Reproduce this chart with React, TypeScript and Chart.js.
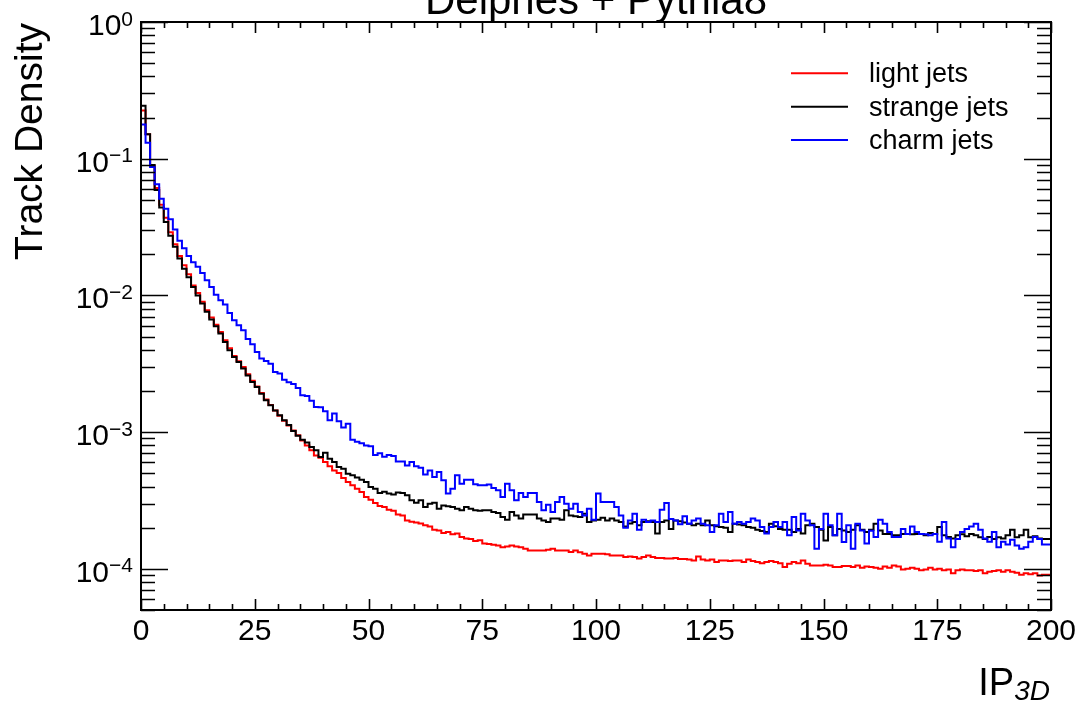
import React, { useEffect, useRef } from "react";
import { Chart, registerables } from "chart.js";

Chart.register(...registerables);

// ---------------- data ----------------
const X_MIN = 0;
const X_MAX = 200;
const BIN_WIDTH = 1;
const Y_MIN = 5e-5;
const Y_MAX = 1;

const X_TICK_LABELS = [0, 25, 50, 75, 100, 125, 150, 175, 200];
const Y_DECADES = [-4, -3, -2, -1, 0];

const TITLE = "Delphes + Pythia8";
const Y_TITLE = "Track Density";
const X_TITLE_MAIN = "IP";
const X_TITLE_SUB = "3D";

const SERIES_LABELS = ["light jets", "strange jets", "charm jets"];
const SERIES_COLORS = ["#ff0000", "#000000", "#0000ff"];

const lightJets = [
  0.151, 0.225, 0.151, 0.089, 0.061, 0.046, 0.037, 0.029, 0.0237, 0.0194,
  0.0166, 0.0143, 0.0118, 0.0104, 0.009, 0.0078, 0.0069, 0.0061, 0.0054, 0.0047,
  0.0041, 0.0036, 0.0033, 0.003, 0.00265, 0.00238, 0.00216, 0.00193, 0.00173, 0.00158,
  0.00144, 0.00132, 0.00121, 0.00112, 0.00103, 0.00095, 0.00087, 0.0008, 0.000736, 0.000676,
  0.00065, 0.000604, 0.000562, 0.000525, 0.000502, 0.000461, 0.000431, 0.000408, 0.000386, 0.000365,
  0.000335, 0.00032, 0.000303, 0.000288, 0.000283, 0.000271, 0.000266, 0.00025, 0.000246, 0.000226,
  0.000221, 0.000218, 0.000215, 0.000208, 0.000204, 0.000193, 0.000191, 0.000183, 0.000186, 0.000179,
  0.000181, 0.000171, 0.000167, 0.000165, 0.00016, 0.000162, 0.000153, 0.000152, 0.00015, 0.000148,
  0.000144, 0.000146, 0.000148, 0.000146, 0.000144, 0.00014, 0.000136, 0.000136, 0.000136, 0.000136,
  0.000138, 0.00014, 0.000136, 0.000136, 0.000136, 0.000133, 0.000136, 0.000132, 0.000129, 0.000125,
  0.000129, 0.000129, 0.000129, 0.000128, 0.000125, 0.000125, 0.000125, 0.000122, 0.000123, 0.000122,
  0.000119, 0.000122, 0.000125, 0.000122, 0.00012, 0.00012, 0.000119, 0.000119, 0.00012, 0.000118,
  0.000118, 0.000117, 0.000115, 0.000123, 0.000117, 0.000115, 0.000117, 0.000112, 0.000115, 0.000115,
  0.000114, 0.000115, 0.000115, 0.000112, 0.000117, 0.000114, 0.000112, 0.00011, 0.000112, 0.000114,
  0.000112, 0.00011, 0.000103, 0.000109, 0.000112, 0.00011, 0.000115, 0.000109, 0.000106, 0.000106,
  0.000106, 0.000107, 0.000106, 0.000103, 0.000103, 0.000105, 0.000105, 0.000103, 0.000106, 0.000102,
  0.000104, 0.000103, 0.000102, 0.0001, 0.000104, 0.000102, 0.000106, 0.000104, 0.0000989, 0.0001,
  0.000102, 0.0001, 0.0000975, 0.0000989, 0.000102, 0.0000989, 0.0001, 0.0000975, 0.0000989, 0.0000928,
  0.0000975, 0.0000989, 0.0000975, 0.0000975, 0.0000963, 0.0000975, 0.0000928, 0.0000954, 0.0000963, 0.0000975,
  0.0000954, 0.0000975, 0.0000954, 0.0000937, 0.0000906, 0.0000928, 0.0000913, 0.0000928, 0.0000893, 0.0000906,
];

const strangeJets = [
  0.151, 0.244, 0.151, 0.09, 0.059, 0.044, 0.0345, 0.0273, 0.0227, 0.0186,
  0.0157, 0.0136, 0.0115, 0.01, 0.00873, 0.0076, 0.00666, 0.00595, 0.00526, 0.00457,
  0.00397, 0.00355, 0.00326, 0.00292, 0.0026, 0.00233, 0.00214, 0.00191, 0.00171, 0.00157,
  0.00144, 0.00133, 0.00122, 0.00113, 0.00102, 0.00094, 0.00088, 0.00084, 0.00078, 0.000736,
  0.000658, 0.000708, 0.00064, 0.000604, 0.000555, 0.00054, 0.000497, 0.000483, 0.000465, 0.000449,
  0.000431, 0.000397, 0.000386, 0.000358, 0.000366, 0.000355, 0.00035, 0.000362, 0.000358, 0.000345,
  0.000317, 0.000305, 0.000317, 0.000283, 0.000299, 0.000305, 0.000275, 0.000291, 0.000287, 0.000283,
  0.000275, 0.000268, 0.000283, 0.000275, 0.000268, 0.000266, 0.000268, 0.000268, 0.00026, 0.000256,
  0.000239, 0.000229, 0.00026, 0.000246, 0.000233, 0.00025, 0.00025, 0.00025, 0.000233, 0.000226,
  0.00022, 0.000233, 0.000233, 0.000229, 0.000268, 0.000246, 0.000242, 0.000239, 0.000253, 0.00022,
  0.000226, 0.000229, 0.000236, 0.000226, 0.000233, 0.000226, 0.00022, 0.000204, 0.000215, 0.00022,
  0.000208, 0.00022, 0.000223, 0.00022, 0.000181, 0.00022, 0.000226, 0.000196, 0.000226, 0.000223,
  0.000218, 0.000214, 0.000208, 0.000214, 0.000208, 0.000226, 0.000208, 0.000205, 0.000202, 0.0002,
  0.000186, 0.000214, 0.000211, 0.000208, 0.000202, 0.0002, 0.000193, 0.000189, 0.000186, 0.000214,
  0.000205, 0.000196, 0.000193, 0.000193, 0.000186, 0.000196, 0.000181, 0.000208, 0.000214, 0.000202,
  0.000193, 0.000161, 0.000202, 0.000176, 0.000196, 0.000191, 0.000186, 0.000193, 0.000208, 0.000193,
  0.000186, 0.000193, 0.000214, 0.000191, 0.00018, 0.00018, 0.000176, 0.000176, 0.00018, 0.00018,
  0.000179, 0.00018, 0.00018, 0.000176, 0.000183, 0.00018, 0.000202, 0.000176, 0.000171, 0.000167,
  0.000176, 0.000179, 0.000173, 0.00018, 0.000176, 0.00017, 0.000165, 0.000171, 0.000165, 0.00017,
  0.000167, 0.000176, 0.000193, 0.00017, 0.000176, 0.000193, 0.00017, 0.000173, 0.000167, 0.000165,
];

const charmJets = [
  0.103, 0.178, 0.131, 0.087, 0.065, 0.051, 0.043, 0.036, 0.0304, 0.0251,
  0.0221, 0.0194, 0.0175, 0.0162, 0.0146, 0.0129, 0.0115, 0.0101, 0.0092, 0.00857,
  0.00745, 0.00658, 0.00605, 0.00556, 0.0048, 0.0044, 0.00386, 0.00345, 0.00332, 0.00317,
  0.00275, 0.00268, 0.00242, 0.00232, 0.00225, 0.0021, 0.00186, 0.00184, 0.0017, 0.00153,
  0.00152, 0.00142, 0.00122, 0.00137, 0.0012, 0.00108, 0.00115, 0.00088, 0.00085, 0.00083,
  0.0008, 0.00079, 0.00068, 0.0007, 0.00066, 0.00068, 0.00067, 0.000611, 0.000611, 0.000571,
  0.000604, 0.000562, 0.00055, 0.000489, 0.000525, 0.000469, 0.00051, 0.000444, 0.000355, 0.000386,
  0.000483, 0.00042, 0.000449, 0.000449, 0.000415, 0.000408, 0.000408, 0.000414, 0.00039, 0.000375,
  0.000335, 0.00042, 0.000375, 0.000317, 0.000358, 0.000335, 0.000358, 0.000358, 0.000308, 0.000268,
  0.000294, 0.00026, 0.000308, 0.000335, 0.000299, 0.000275, 0.000299, 0.00026, 0.000246, 0.000275,
  0.000229, 0.000355, 0.000308, 0.000308, 0.000308, 0.000283, 0.000246, 0.0002, 0.000226, 0.000253,
  0.000193, 0.000229, 0.00022, 0.000226, 0.00022, 0.000271, 0.000303, 0.000232, 0.000226, 0.000212,
  0.000242, 0.000214, 0.000226, 0.000233, 0.000214, 0.000208, 0.000186, 0.000208, 0.000253, 0.00022,
  0.00026, 0.000214, 0.00022, 0.000214, 0.00022, 0.000233, 0.000226, 0.000202, 0.000181, 0.000202,
  0.00022, 0.000202, 0.00022, 0.000176, 0.000239, 0.000191, 0.000253, 0.000226, 0.000208, 0.00014,
  0.000196, 0.000253, 0.000208, 0.000176, 0.000253, 0.000157, 0.000208, 0.00014, 0.000214, 0.000191,
  0.000153, 0.00019, 0.000171, 0.000229, 0.000214, 0.000186, 0.000171, 0.000171, 0.000196, 0.00018,
  0.000204, 0.000186, 0.00018, 0.000179, 0.000176, 0.00018, 0.000158, 0.00022, 0.000167, 0.000144,
  0.000165, 0.000186, 0.000196, 0.000204, 0.000214, 0.000193, 0.000167, 0.000158, 0.000186, 0.000144,
  0.000158, 0.000151, 0.000163, 0.000148, 0.00014, 0.000144, 0.000158, 0.000171, 0.000165, 0.000151,
];

const SERIES_VALUES = [lightJets, strangeJets, charmJets];

// ---------------- helpers ----------------
const FONT = "'Liberation Sans', Arial, Helvetica, sans-serif";

function histPoints(values: number[]) {
  // bin left edges plus the closing right edge (stepped 'after')
  const pts = values.map((v, i) => ({ x: X_MIN + i * BIN_WIDTH, y: v }));
  pts.push({ x: X_MIN + values.length * BIN_WIDTH, y: values[values.length - 1] });
  return pts;
}

const rootStyle = {
  id: "rootStyle",
  afterDatasetsDraw(chart: any) {
    const { ctx, chartArea: a, scales } = chart;
    const xs = scales.x;
    const ys = scales.y;
    ctx.save();
    ctx.strokeStyle = "#000";
    ctx.fillStyle = "#000";

    // frame
    ctx.lineWidth = 2;
    ctx.strokeRect(a.left, a.top, a.right - a.left, a.bottom - a.top);

    // y ticks (decades and 2..9 minor), both sides, pointing inwards
    ctx.lineWidth = 1.6;
    ctx.beginPath();
    for (let e = -5; e <= 0; e++) {
      for (let m = 1; m <= 9; m++) {
        const v = m * Math.pow(10, e);
        if (v < Y_MIN * 0.999 || v > Y_MAX * 1.001) continue;
        const py = Math.round(ys.getPixelForValue(v)) + 0.5;
        const len = m === 1 ? 27 : 14;
        ctx.moveTo(a.left, py);
        ctx.lineTo(a.left + len, py);
        ctx.moveTo(a.right, py);
        ctx.lineTo(a.right - len, py);
      }
    }
    // x ticks: every 5 minor, every 25 major, bottom and top
    for (let v = X_MIN; v <= X_MAX; v += 5) {
      const px = Math.round(xs.getPixelForValue(v)) + 0.5;
      const len = v % 25 === 0 ? 11 : 6;
      ctx.moveTo(px, a.bottom);
      ctx.lineTo(px, a.bottom - len);
      ctx.moveTo(px, a.top);
      ctx.lineTo(px, a.top + len);
    }
    ctx.stroke();

    // x tick labels
    ctx.font = `30px ${FONT}`;
    ctx.textAlign = "center";
    ctx.textBaseline = "alphabetic";
    xs.ticks.forEach((t: any) => {
      const px = xs.getPixelForValue(t.value);
      ctx.fillText(String(t.value), px, a.bottom + 30);
    });

    // y tick labels 10^n
    ys.ticks.forEach((t: any) => {
      const e = Math.round(Math.log10(t.value));
      const py = ys.getPixelForValue(t.value);
      const sup = e === 0 ? "0" : "\u2212" + Math.abs(e);
      const rightX = a.left - 8;
      ctx.font = `21px ${FONT}`;
      ctx.textAlign = "right";
      ctx.fillText(sup, rightX, py + 3.5);
      const supW = ctx.measureText(sup).width;
      ctx.font = `30px ${FONT}`;
      ctx.fillText("10", rightX - supW, py + 12.8);
    });

    // title (partly above the canvas, as in the reference)
    ctx.font = `42px ${FONT}`;
    ctx.textAlign = "center";
    ctx.fillText(TITLE, (a.left + a.right) / 2, 14);

    // y axis title
    ctx.save();
    ctx.translate(42, a.top + 1);
    ctx.rotate(-Math.PI / 2);
    ctx.font = `39px ${FONT}`;
    ctx.textAlign = "right";
    ctx.fillText(Y_TITLE, 0, 0);
    ctx.restore();

    // x axis title IP_{3D}
    ctx.font = `italic 28px ${FONT}`;
    const subW = ctx.measureText(X_TITLE_SUB).width;
    ctx.font = `38px ${FONT}`;
    const mainW = ctx.measureText(X_TITLE_MAIN).width;
    const endX = a.right - 1;
    ctx.textAlign = "left";
    ctx.fillText(X_TITLE_MAIN, endX - subW - mainW, 695);
    ctx.font = `italic 28px ${FONT}`;
    ctx.fillText(X_TITLE_SUB, endX - subW, 700);

    // legend
    const rowsY = [73.3, 106.7, 140];
    chart.data.datasets.forEach((ds: any, i: number) => {
      const y = rowsY[i];
      ctx.strokeStyle = ds.borderColor;
      ctx.lineWidth = 2;
      ctx.beginPath();
      ctx.moveTo(791, y);
      ctx.lineTo(848, y);
      ctx.stroke();
      ctx.fillStyle = "#000";
      ctx.font = `27px ${FONT}`;
      ctx.textAlign = "left";
      ctx.fillText(ds.label, 869, y + 9);
    });

    ctx.restore();
  },
};

export default function App() {
  const canvasRef = useRef<HTMLCanvasElement | null>(null);

  useEffect(() => {
    const canvas = canvasRef.current;
    if (!canvas) return;
    const drawOrder = [3, 2, 1]; // charm on top, light at the bottom
    const chart = new Chart(canvas, {
      type: "line",
      data: {
        datasets: SERIES_VALUES.map((vals, i) => ({
          label: SERIES_LABELS[i],
          data: histPoints(vals),
          borderColor: SERIES_COLORS[i],
          backgroundColor: SERIES_COLORS[i],
          borderWidth: 2,
          stepped: "after" as const,
          pointRadius: 0,
          fill: false,
          order: drawOrder[i],
        })),
      },
      options: {
        responsive: false,
        animation: false,
        events: [],
        layout: { padding: { top: 22, right: 35, left: 0, bottom: 0 } },
        scales: {
          x: {
            type: "linear",
            min: X_MIN,
            max: X_MAX,
            ticks: { display: false, stepSize: 25 },
            grid: { display: false },
            border: { display: false },
            afterBuildTicks: (s: any) => {
              s.ticks = X_TICK_LABELS.map((v) => ({ value: v }));
            },
            afterFit: (s: any) => {
              s.height = 102;
            },
          },
          y: {
            type: "logarithmic",
            min: Y_MIN,
            max: Y_MAX,
            ticks: { display: false },
            grid: { display: false },
            border: { display: false },
            afterBuildTicks: (s: any) => {
              s.ticks = Y_DECADES.map((e) => ({ value: Math.pow(10, e) }));
            },
            afterFit: (s: any) => {
              s.width = 141;
            },
          },
        },
        plugins: {
          legend: { display: false },
          title: { display: false },
          tooltip: { enabled: false },
        },
      } as any,
      plugins: [rootStyle],
    });
    return () => chart.destroy();
  }, []);

  return (
    <div style={{ position: "fixed", left: 0, top: 0, width: 1086, height: 712, background: "#fff" }}>
      <canvas ref={canvasRef} width={1086} height={712} style={{ display: "block" }} />
    </div>
  );
}
